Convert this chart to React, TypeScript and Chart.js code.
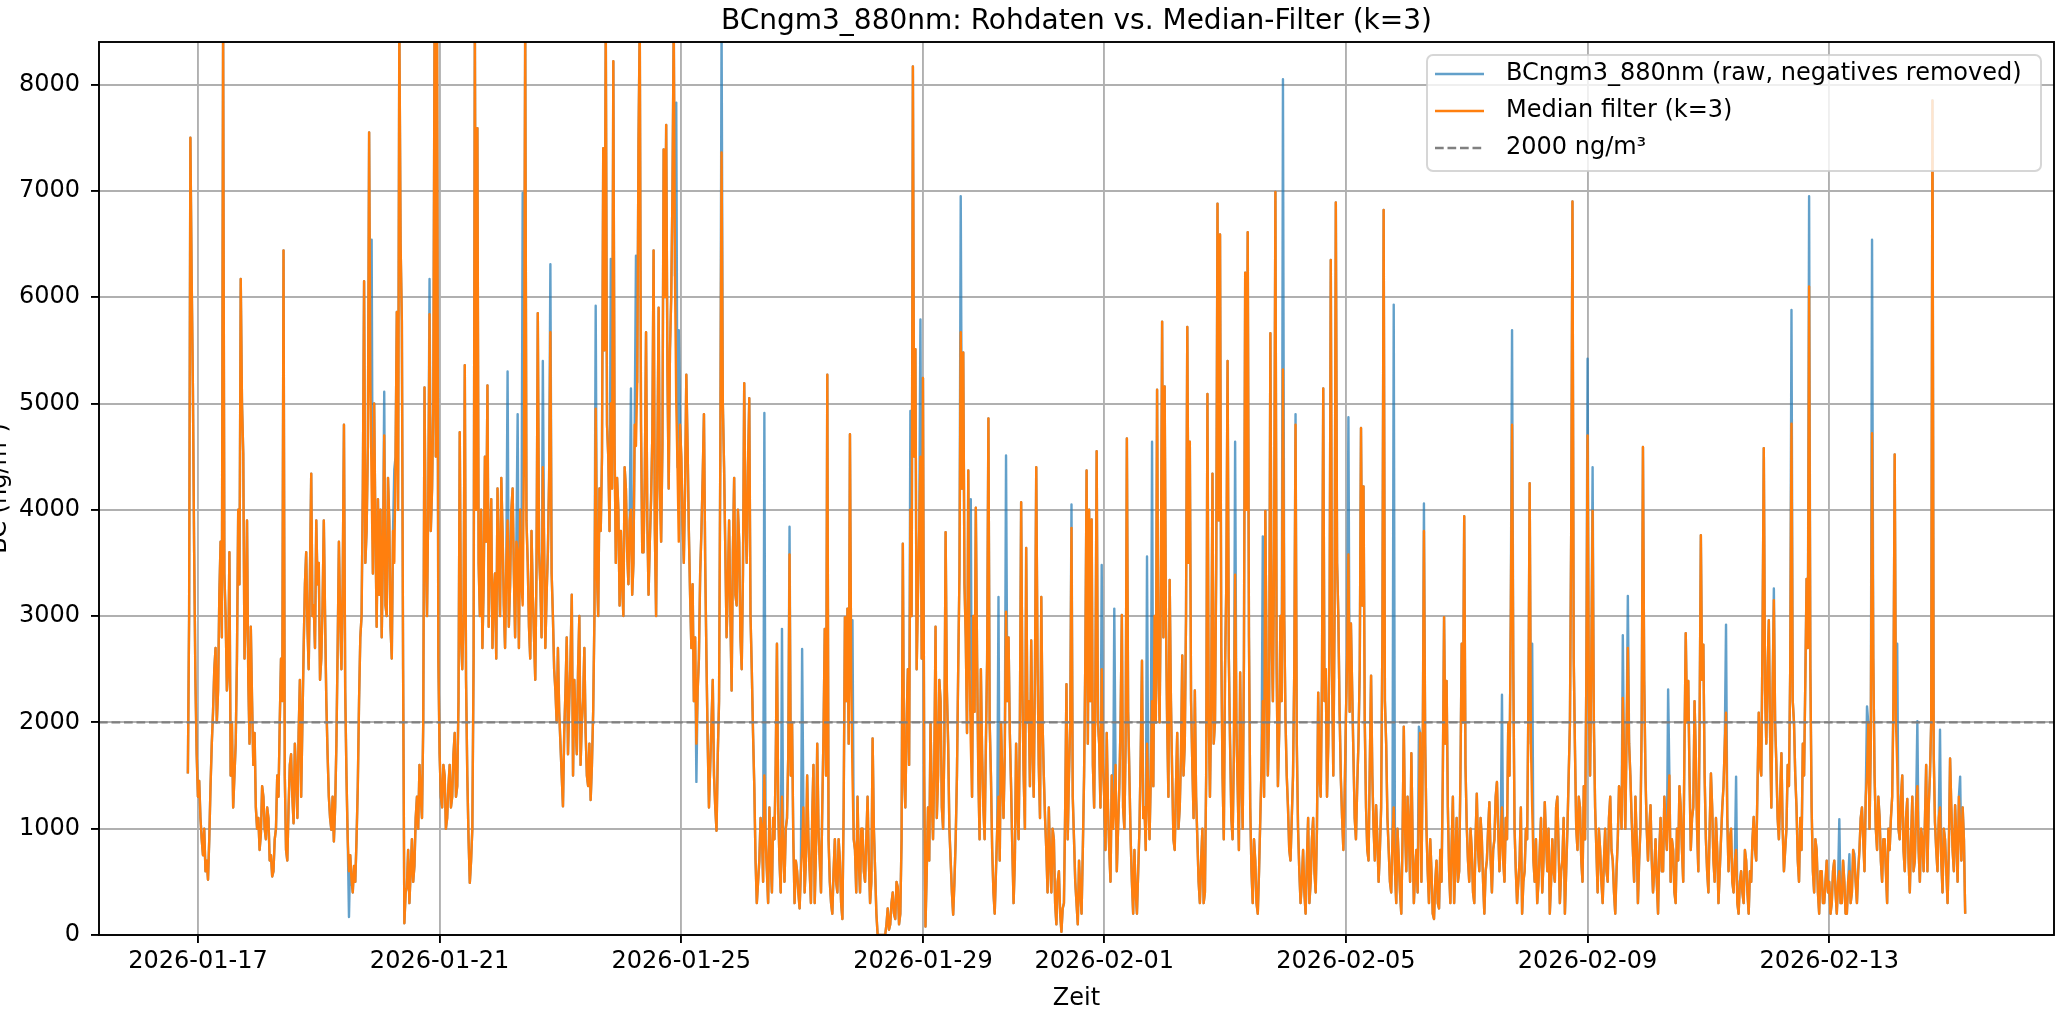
import React, { useEffect, useRef } from "react";
import { Chart, registerables } from "chart.js";

Chart.register(...registerables);

// ---------------- DATA ----------------
const chartTitle = "BCngm3_880nm: Rohdaten vs. Median-Filter (k=3)";
const xAxisTitle = "Zeit";
const yAxisTitle = "BC (ng/m³)";
const legendLabels = [
  "BCngm3_880nm (raw, negatives removed)",
  "Median filter (k=3)",
  "2000 ng/m³",
];

// half-hourly samples, first sample 2026-01-16 20:00 (hours relative to 2026-01-17 00:00)
const firstSampleHour = -4;
const sampleStepHours = 0.5;

// median-filtered series (ng/m³), one value per 30 min
const medianValues: number[] = [
  // 2026-01-16 20:00-23:30
  1520, 3000, 7500, 6200, 5150, 3600, 2400, 1700,
  // 01-17
  1300, 1450, 1100, 900, 750, 1000, 600, 700, 520, 900, 1400, 1800, 2100, 2500, 2700, 2000,
  2300, 3200, 3700, 2800, 8600, 3400, 3000, 2300, 2500, 3600, 1500, 2000, 1200, 1500, 1800, 2600,
  4000, 3300, 6170, 5000, 4530, 2600, 3000, 3900, 2400, 1800, 2900, 2200, 1600, 1900, 1200, 1000,
  // 01-18
  1100, 800, 950, 1400, 1300, 1000, 900, 1200, 1100, 700, 750, 550, 600, 900, 1000, 1500,
  1300, 2000, 2600, 2200, 6440, 1500, 800, 700, 1200, 1600, 1700, 1300, 1050, 1800, 1500, 1100,
  1900, 2400, 1300, 2000, 2700, 3300, 3600, 2900, 2500, 3400, 4340, 3000, 3100, 2700, 3900, 3300,
  // 01-19
  3500, 2400, 2600, 3100, 3900, 3000, 2200, 1700, 1300, 1100, 990, 1300, 880, 1200, 1800, 2700,
  3700, 3000, 2500, 3300, 4800, 2300, 1500, 900, 600, 750, 520, 400, 650, 500, 900, 1400,
  2200, 2800, 3000, 4200, 6150, 3500, 3800, 4600, 7550, 5200, 4200, 3400, 5000, 3800, 2900, 4100,
  // 01-20
  3200, 4000, 2800, 3600, 4700, 3100, 3000, 4300, 3900, 2900, 2600, 3800, 3500, 4500, 5860, 4000,
  8600, 6500, 5780, 2500, 110, 400, 450, 800, 300, 600, 900, 500, 650, 1100, 1300, 1000,
  1600, 1300, 1100, 2000, 5150, 3600, 3000, 4100, 5840, 3800, 4200, 5000, 8600, 4500, 8600, 2600,
  // 01-21
  1700, 1300, 1200, 1600, 1500, 1000, 1100, 1400, 1600, 1200, 1300, 1700, 1900, 1300, 1400, 2200,
  4730, 2800, 2500, 3000, 5360, 2400, 1500, 900, 490, 700, 1000, 2600, 8600, 4000, 7590, 3500,
  3000, 4000, 2700, 3300, 4500, 3700, 5170, 2900, 3600, 4100, 2700, 3200, 3400, 2600, 4200, 3500,
  // 01-22
  3000, 4300, 3800, 3100, 2700, 3500, 3900, 2900, 3300, 4000, 4200, 3400, 2800, 3700, 3600, 2700,
  4000, 3300, 3100, 4500, 8600, 3900, 3500, 2900, 2600, 3800, 3200, 2800, 2400, 3500, 5850, 3600,
  3300, 2800, 4400, 3700, 2700, 3200, 3600, 4300, 5670, 3400, 3000, 2500, 2300, 2000, 2700, 2100,
  // 01-23
  1800, 1500, 1210, 1900, 2300, 2800, 1700, 2200, 2600, 3200, 1500, 2400, 2000, 1700, 2500, 3000,
  1600, 2000, 2200, 2700, 1900, 1500, 1400, 1800, 1270, 1600, 2100, 3000, 4950, 3400, 3000, 4200,
  3800, 4500, 7400, 5500, 8600, 4800, 4500, 3800, 5000, 4200, 8220, 4600, 3500, 4300, 4000, 3100,
  // 01-24
  3800, 3300, 3000, 4400, 4200, 3600, 3300, 3900, 4000, 3200, 3500, 4800, 4600, 5200, 7440, 8600,
  4800, 3600, 3600, 4300, 5670, 3900, 3200, 3700, 4100, 4700, 6440, 3800, 3000, 4500, 5900, 4200,
  3700, 4600, 7390, 6000, 7620, 5300, 4200, 5500, 6000, 7000, 8600, 6200, 5000, 4400, 3700, 4800,
  // 01-25
  4500, 3900, 3500, 4200, 5270, 4600, 3800, 3200, 2700, 3300, 2200, 2800, 1800, 2300, 2600, 3400,
  3800, 4300, 4900, 3500, 2600, 1800, 1200, 1600, 2000, 2400, 1500, 1200, 980, 1700, 2200, 4500,
  7360, 5000, 4400, 3600, 2800, 3300, 3900, 3000, 2300, 3600, 4300, 3200, 3100, 4000, 3700, 2800,
  // 01-26
  2500, 3400, 5190, 3900, 3500, 4400, 5050, 3000, 2500, 1900, 1400, 700, 300, 500, 700, 1100,
  1000, 500, 1500, 900, 600, 300, 1200, 700, 400, 1100, 900, 1600, 2740, 1200, 700, 400,
  1300, 800, 500, 1000, 1100, 1700, 3580, 1500, 2000, 900, 300, 700, 600, 400, 250, 600,
  // 01-27
  800, 1200, 400, 700, 1500, 900, 600, 300, 1100, 1600, 300, 800, 1800, 1000, 700, 400,
  1200, 1900, 2880, 1500, 5270, 900, 500, 300, 200, 600, 900, 500, 400, 900, 700, 300,
  150, 1200, 2990, 2200, 3070, 1800, 4710, 2400, 1500, 900, 800, 400, 1300, 700, 400, 1000,
  // 01-28
  1000, 600, 500, 900, 1300, 700, 300, 500, 1850, 1000, 600, 200, 0, 0, 0, 0,
  0, 0, 0, 100, 250, 50, 100, 300, 400, 200, 150, 500, 450, 100, 200, 900,
  3680, 1500, 1200, 2000, 2500, 1600, 4000, 3000, 8170, 4500, 5510, 2500, 3200, 3800, 4500, 2600,
  // 01-29
  5240, 1500, 80, 600, 1200, 700, 2000, 1300, 900, 1600, 2900, 1100, 1500, 2400, 2200, 1200,
  1000, 1800, 3790, 2300, 1800, 1000, 700, 400, 190, 500, 900, 1500, 2500, 3400, 5670, 4200,
  5480, 3300, 2800, 1900, 4370, 2500, 1800, 1300, 3000, 2100, 4020, 2600, 1500, 900, 2500, 1700,
  // 01-30
  1200, 900, 1800, 2600, 4860, 2000, 1500, 800, 400, 200, 600, 1000, 1300, 700, 2000, 1500,
  1100, 1700, 3040, 2200, 2800, 1900, 1400, 800, 300, 700, 1800, 1200, 900, 2000, 4070, 2300,
  1500, 1000, 3640, 2000, 2200, 1400, 2770, 1800, 1300, 2500, 4400, 2600, 1600, 1100, 3180, 2000,
  // 01-31
  1500, 1100, 800, 400, 1200, 700, 400, 1000, 900, 300, 100, 500, 600, 200, 30, 250,
  300, 1200, 2360, 900, 1500, 2000, 3830, 1300, 900, 500, 300, 100, 700, 400, 200, 800,
  1500, 2600, 4370, 1800, 4000, 2200, 3910, 1600, 1200, 2400, 4550, 2000, 1800, 1200, 2500, 1600,
  // 02-01
  1300, 800, 1900, 1200, 800, 500, 1500, 1000, 1200, 1600, 600, 1000, 1400, 2000, 3010, 1200,
  1000, 1800, 4670, 2100, 1500, 900, 500, 200, 800, 400, 200, 600, 1000, 1700, 2580, 1100,
  1200, 800, 1800, 1300, 900, 1500, 2200, 1400, 3000, 2000, 5130, 2500, 2000, 3300, 5770, 2800,
  // 02-02
  5160, 3000, 2000, 1300, 3340, 2200, 1500, 900, 800, 1400, 1900, 1000, 1200, 1700, 2630, 1500,
  1800, 3000, 5720, 3500, 4640, 2200, 1600, 1100, 2300, 1300, 900, 500, 300, 700, 1000, 300,
  400, 1500, 5090, 2100, 1300, 2200, 4340, 1800, 2000, 3500, 6880, 3900, 6590, 2700, 1500, 900,
  // 02-03
  2500, 3300, 5400, 2600, 1800, 1100, 900, 1700, 3390, 2000, 1400, 800, 2470, 1500, 1000, 2600,
  6230, 4000, 6610, 2800, 1200, 600, 300, 900, 700, 300, 200, 600, 1100, 1600, 2200, 1300,
  3990, 2500, 1500, 2100, 5660, 2800, 2200, 3600, 6990, 2500, 1400, 1900, 3000, 2200, 5320, 3000,
  // 02-04
  2040, 1500, 1200, 800, 700, 1100, 1500, 2500, 4800, 1800, 1000, 600, 300, 500, 800, 400,
  200, 700, 1100, 300, 500, 900, 1100, 600, 400, 1000, 2280, 1500, 1300, 2400, 5140, 2200,
  2500, 1300, 1800, 2800, 6350, 2500, 1500, 3000, 6890, 3500, 3000, 2100, 1470, 1100, 800, 1300,
  // 02-05
  2040, 2600, 3580, 2100, 2930, 2300, 1680, 1100, 900, 1400, 1820, 2500, 4770, 3100, 4220, 2000,
  1200, 800, 700, 1600, 2440, 1500, 1000, 700, 1220, 900, 500, 800, 1200, 2800, 6820, 2200,
  1800, 1100, 800, 500, 400, 900, 1200, 600, 300, 1000, 700, 400, 200, 900, 1960, 1000,
  // 02-06
  600, 1300, 1000, 500, 1710, 900, 300, 600, 800, 400, 1200, 1900, 500, 1600, 3800, 1800,
  1000, 600, 300, 900, 600, 200, 150, 500, 700, 300, 250, 800, 500, 1500, 2990, 1800,
  2390, 1200, 600, 300, 840, 1300, 300, 700, 1100, 500, 600, 1500, 2740, 2000, 3940, 1600,
  // 02-07
  1030, 700, 500, 1000, 800, 400, 300, 900, 1330, 800, 600, 1100, 900, 500, 200, 600,
  700, 1000, 1250, 700, 400, 800, 900, 1300, 1440, 1000, 600, 900, 1200, 700, 500, 1100,
  900, 2000, 1500, 3000, 4800, 2500, 1000, 600, 300, 500, 700, 1200, 200, 500, 600, 1000,
  // 02-08
  900, 2200, 4250, 1800, 1200, 700, 500, 900, 300, 500, 800, 1100, 400, 700, 1250, 900,
  600, 1000, 200, 500, 900, 600, 500, 1200, 1300, 800, 300, 600, 700, 1100, 200, 600,
  1000, 1500, 2000, 3800, 6900, 2600, 1740, 1000, 800, 1300, 1200, 700, 500, 1400, 900, 2400,
  // 02-09
  4700, 2300, 1500, 2600, 3990, 2000, 1200, 800, 400, 1000, 800, 500, 300, 700, 1000, 600,
  500, 1100, 1300, 800, 700, 400, 200, 600, 900, 1400, 1300, 1000, 2230, 1600, 1000, 1900,
  2700, 1800, 1500, 1100, 800, 500, 1300, 900, 300, 700, 1000, 2000, 4590, 2400, 1500, 1000,
  // 02-10
  700, 1000, 1220, 700, 400, 600, 900, 500, 200, 800, 1100, 600, 600, 1300, 1000, 800,
  1170, 1500, 500, 900, 800, 400, 300, 1000, 700, 1400, 1200, 800, 500, 1800, 2840, 2000,
  2390, 1500, 800, 1100, 1200, 2200, 1680, 1000, 600, 2000, 3760, 2400, 2730, 1500, 900, 600,
  // 02-11
  400, 1000, 1520, 1200, 700, 500, 1100, 800, 300, 600, 900, 1200, 1400, 1800, 2090, 1100,
  600, 900, 1000, 500, 400, 700, 800, 300, 200, 500, 600, 400, 300, 800, 700, 400,
  200, 600, 500, 900, 1110, 800, 700, 1400, 2090, 1600, 1500, 2800, 4580, 2300, 1800, 2500,
  // 02-12
  2960, 1900, 1200, 2300, 3150, 2000, 1600, 1100, 900, 1300, 1710, 1000, 600, 800, 1000, 1600,
  1400, 2500, 4810, 2200, 2000, 1500, 1200, 700, 500, 1100, 800, 1800, 1500, 2400, 3350, 2700,
  6100, 2500, 1200, 600, 400, 900, 800, 400, 200, 600, 600, 300, 300, 500, 700, 400,
  // 02-13
  500, 200, 300, 600, 700, 400, 200, 500, 600, 300, 300, 700, 500, 200, 200, 500,
  600, 300, 400, 800, 700, 500, 300, 600, 800, 1100, 1200, 900, 600, 1300, 1500, 2000,
  1000, 1800, 4720, 2600, 1500, 1000, 800, 1300, 1110, 700, 500, 900, 900, 600, 300, 1000,
  // 02-14
  800, 1100, 1300, 2200, 4520, 2000, 1600, 1000, 900, 1300, 1500, 800, 600, 1100, 1280, 700,
  400, 900, 1300, 600, 700, 1200, 1400, 800, 500, 1000, 900, 600, 1060, 1600, 600, 1200,
  1500, 2000, 7850, 1700, 1060, 800, 600, 1100, 1200, 700, 400, 1000, 900, 600, 300, 800,
  // 02-15 00:00-06:00
  1660, 1200, 800, 600, 1220, 900, 500, 1300, 1000, 700, 1200, 900, 200,
];

// raw samples that differ from the median (isolated spikes removed by the filter)
const rawSpikeIndex: number[] = [
  128, 146, 156, 164, 192, 254, 262, 266, 282, 288, 324, 336, 352, 356, 388, 390, 404, 424,
  458, 472, 478, 488, 528, 574, 582, 614, 622, 644, 650, 702, 726, 736, 762, 766,
  832, 854, 870, 880, 922, 958, 978, 982, 1044, 1052, 1068, 1112, 1116, 1140, 1144, 1176,
  1222, 1230, 1260, 1274, 1288, 1312, 1320, 1324, 1334, 1338, 1358, 1374, 1392, 1408,
];
const rawSpikeValue: number[] = [
  170, 6540, 5110, 4380, 6170, 5300, 4900, 6980, 5400, 6310, 5920, 6360, 5140, 6390, 7830, 5690, 1440, 8600,
  4910, 2880, 3840, 2690, 2960, 4930, 5790, 6950, 4100, 3180, 4510, 4050, 3480, 3070, 3560, 4640,
  4640, 3750, 8050, 4900, 4870, 5930, 1960, 4060, 2260, 5690, 2740, 5420, 4400, 2820, 3190, 2310,
  2920, 1490, 3260, 5880, 6950, 1090, 760, 760, 2150, 6540, 2740, 2010, 1930, 1490,
];

const thresholdValue = 2000;

// x axis in days since 2026-01-17 00:00
const xTickDays = [0, 4, 8, 12, 15, 19, 23, 27];
const xTickLabels = [
  "2026-01-17", "2026-01-21", "2026-01-25", "2026-01-29",
  "2026-02-01", "2026-02-05", "2026-02-09", "2026-02-13",
];
const yTickValues = [0, 1000, 2000, 3000, 4000, 5000, 6000, 7000, 8000];
const xLimits = [-1.6375, 30.72];
const yLimits = [0, 8400];

// ---------------- STYLE ----------------
const FONT = '"DejaVu Sans", "Liberation Sans", sans-serif';
const W = 2058;
const H = 1013;
const BLUE = "rgba(31,119,180,0.7)";
const ORANGE = "#ff7f0e";
const GREY_DASH = "#808080";
const LW = 2.4;

export default function App() {
  const ref = useRef<HTMLCanvasElement | null>(null);

  useEffect(() => {
    const canvas = ref.current;
    if (!canvas) return;

    const sampleToDay = (i: number) => (firstSampleHour + i * sampleStepHours) / 24;
    const medianPts = medianValues.map((v, i) => ({ x: sampleToDay(i), y: v }));
    const rawPts = medianValues.map((v, i) => {
      const k = rawSpikeIndex.indexOf(i);
      return { x: sampleToDay(i), y: k >= 0 ? rawSpikeValue[k] : v };
    });
    const thresholdPts = [
      { x: xLimits[0], y: thresholdValue },
      { x: xLimits[1], y: thresholdValue },
    ];

    const decor = {
      id: "decor",
      afterDraw(chart: any) {
        const ctx = chart.ctx as CanvasRenderingContext2D;
        const a = chart.chartArea;
        ctx.save();
        // spines
        ctx.strokeStyle = "#000";
        ctx.lineWidth = 1.9;
        ctx.strokeRect(a.left, a.top, a.right - a.left, a.bottom - a.top);

        // legend (inside, upper right)
        const bx = 1427, by = 55, bw = 614, bh = 116, r = 6;
        ctx.beginPath();
        ctx.moveTo(bx + r, by);
        ctx.arcTo(bx + bw, by, bx + bw, by + bh, r);
        ctx.arcTo(bx + bw, by + bh, bx, by + bh, r);
        ctx.arcTo(bx, by + bh, bx, by, r);
        ctx.arcTo(bx, by, bx + bw, by, r);
        ctx.closePath();
        ctx.fillStyle = "rgba(255,255,255,0.8)";
        ctx.fill();
        ctx.strokeStyle = "rgba(204,204,204,0.8)";
        ctx.lineWidth = 2;
        ctx.stroke();

        const rows = [74, 111, 148];
        const colors = [BLUE, ORANGE, GREY_DASH];
        rows.forEach((ry, k) => {
          ctx.beginPath();
          ctx.setLineDash(k === 2 ? [8.7, 3.8] : []);
          ctx.strokeStyle = colors[k];
          ctx.lineWidth = LW;
          ctx.moveTo(1435, ry);
          ctx.lineTo(1484, ry);
          ctx.stroke();
          ctx.setLineDash([]);
          ctx.fillStyle = "#000";
          ctx.font = `24px ${FONT}`;
          ctx.textAlign = "left";
          ctx.textBaseline = "middle";
          ctx.fillText(legendLabels[k], 1506, ry);
        });

        // title
        const cx = (a.left + a.right) / 2;
        ctx.fillStyle = "#000";
        ctx.font = `28px ${FONT}`;
        ctx.textAlign = "center";
        ctx.textBaseline = "alphabetic";
        ctx.fillText(chartTitle, cx, 29);

        // x axis title
        ctx.font = `24px ${FONT}`;
        ctx.fillText(xAxisTitle, cx, 1005);

        // y axis title (partially cut off at the left edge)
        ctx.translate(6, (a.top + a.bottom) / 2);
        ctx.rotate(-Math.PI / 2);
        ctx.textAlign = "center";
        ctx.textBaseline = "alphabetic";
        ctx.fillText(yAxisTitle, 0, 0);
        ctx.restore();
      },
    };

    const tickFont = { family: FONT, size: 24 };

    const chart = new Chart(canvas, {
      type: "line",
      data: {
        datasets: [
          {
            label: legendLabels[0],
            data: rawPts,
            borderColor: BLUE,
            borderWidth: LW,
            pointRadius: 0,
            borderJoinStyle: "round",
            tension: 0,
            order: 3,
            clip: 0,
          },
          {
            label: legendLabels[1],
            data: medianPts,
            borderColor: ORANGE,
            borderWidth: LW,
            pointRadius: 0,
            borderJoinStyle: "round",
            tension: 0,
            order: 2,
            clip: 0,
          },
          {
            label: legendLabels[2],
            data: thresholdPts,
            borderColor: GREY_DASH,
            borderWidth: LW,
            borderDash: [8.7, 3.8],
            pointRadius: 0,
            order: 1,
            clip: 0,
          },
        ],
      } as any,
      options: {
        responsive: false,
        animation: false,
        devicePixelRatio: 1,
        events: [],
        layout: { padding: { top: 42, right: 4, left: 0, bottom: 0 } },
        plugins: {
          legend: { display: false },
          title: { display: false },
          tooltip: { enabled: false },
        },
        scales: {
          x: {
            type: "linear",
            min: xLimits[0],
            max: xLimits[1],
            afterBuildTicks: (s: any) => {
              s.ticks = xTickDays.map((v) => ({ value: v }));
            },
            afterFit: (s: any) => {
              s.height = H - 935;
            },
            ticks: {
              autoSkip: false,
              maxRotation: 0,
              minRotation: 0,
              padding: 4,
              color: "#000",
              font: tickFont,
              callback: (v: any) => {
                const k = xTickDays.indexOf(Number(v));
                return k >= 0 ? xTickLabels[k] : "";
              },
            },
            grid: {
              color: "#b0b0b0",
              lineWidth: 1.9,
              drawTicks: true,
              tickLength: 8,
              tickColor: "#000",
              tickWidth: 1.9,
            },
            border: { display: false },
          },
          y: {
            type: "linear",
            min: yLimits[0],
            max: yLimits[1],
            afterBuildTicks: (s: any) => {
              s.ticks = yTickValues.map((v) => ({ value: v }));
            },
            afterFit: (s: any) => {
              s.width = 99;
            },
            ticks: {
              padding: 11,
              color: "#000",
              font: tickFont,
              callback: (v: any) => String(v),
            },
            grid: {
              color: "#b0b0b0",
              lineWidth: 1.9,
              drawTicks: true,
              tickLength: 8,
              tickColor: "#000",
              tickWidth: 1.9,
            },
            border: { display: false },
          },
        },
      } as any,
      plugins: [decor],
    });

    return () => chart.destroy();
  }, []);

  return (
    <div
      style={{
        position: "absolute",
        left: 0,
        top: 0,
        width: W,
        height: H,
        background: "#fff",
        overflow: "hidden",
      }}
    >
      <canvas ref={ref} width={W} height={H} style={{ display: "block", width: W, height: H }} />
    </div>
  );
}
